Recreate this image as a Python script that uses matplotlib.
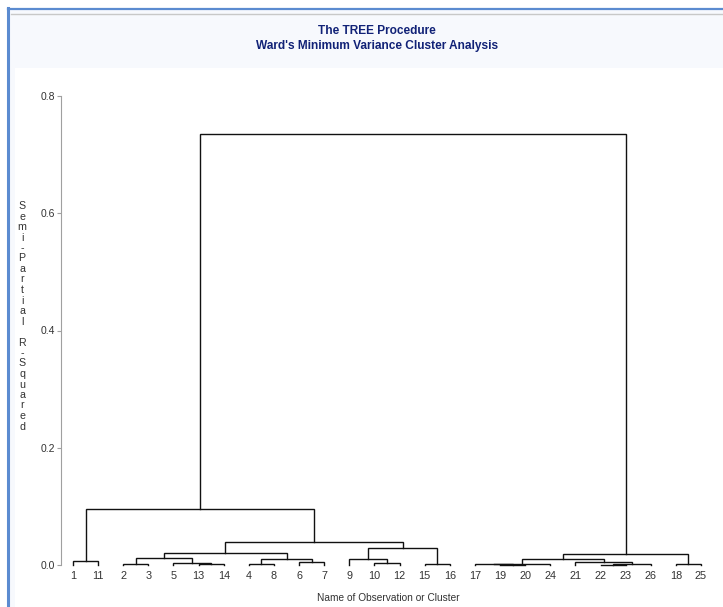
import matplotlib
matplotlib.use("Agg")
import matplotlib.pyplot as plt
from matplotlib.patches import Rectangle
from matplotlib.lines import Line2D

# ---- data ----
leaf_order = ["1", "11", "2", "3", "5", "13", "14", "4", "8", "6", "7", "9", "10", "12",
              "15", "16", "17", "19", "20", "24", "21", "22", "23", "26", "18", "25"]

# merges (ascending height); new cluster names CL25 ... CL1
merge_a = ["19", "22", "17", "13", "4", "18", "15", "2", "CL24", "CL23", "5", "10",
           "21", "6", "1", "CL16", "CL21", "9", "CL18", "CL10", "CL7", "CL8", "CL5", "CL11", "CL2"]
merge_b = ["20", "23", "CL25", "14", "8", "25", "16", "3", "26", "24", "CL22", "12",
           "CL17", "7", "11", "CL13", "CL12", "CL14", "CL15", "CL20", "CL9", "CL19", "CL4", "CL3", "CL6"]
merge_h = [0.0003, 0.0005, 0.0012, 0.0012, 0.0012, 0.0014, 0.0015, 0.0017, 0.0020, 0.0022,
           0.0040, 0.0040, 0.0050, 0.0056, 0.0068, 0.0097, 0.0100, 0.0100, 0.0120, 0.0180,
           0.0205, 0.0295, 0.0390, 0.0955, 0.7350]

y_ticks = [0.0, 0.2, 0.4, 0.6, 0.8]
y_label = "Semi-Partial R-Squared"
x_label = "Name of Observation or Cluster"
title1 = "The TREE Procedure"
title2 = "Ward's Minimum Variance Cluster Analysis"

# ---- figure ----
W, H = 723, 607
fig = plt.figure(figsize=(W / 100, H / 100), dpi=100)
fig.patch.set_facecolor("white")

def fx(px):
    return px / W

def fy(py):
    return 1 - py / H

# background panels / border
fig.patches.append(Rectangle((fx(8), 0), 1, fy(8), transform=fig.transFigure,
                             facecolor="#f7f9fd", edgecolor="none", zorder=-20))
fig.patches.append(Rectangle((fx(15), 0), 1, fy(68), transform=fig.transFigure,
                             facecolor="white", edgecolor="none", zorder=-19))
fig.lines.append(Line2D([fx(8), fx(8)], [0, fy(8)], transform=fig.transFigure,
                        color="#5b8bd0", lw=2.2, zorder=-18))
fig.lines.append(Line2D([fx(8), 1], [fy(8.5), fy(8.5)], transform=fig.transFigure,
                        color="#5b8bd0", lw=1.6, zorder=-18))
fig.lines.append(Line2D([fx(11), 1], [fy(13.5), fy(13.5)], transform=fig.transFigure,
                        color="#c8c8c8", lw=1.0, zorder=-18))

font = ["Liberation Sans", "DejaVu Sans"]
fig.text(fx(377), fy(31), title1, ha="center", va="center", fontsize=8.6, fontweight="bold",
         color="#112277", family=font)
fig.text(fx(377), fy(46), title2, ha="center", va="center", fontsize=8.6, fontweight="bold",
         color="#112277", family=font)

# axes
n = len(leaf_order)
x0_px, step_px = 73.0, 25.12
left_px, right_px = 61.0, 723.0
xmin = 1 + (left_px - x0_px) / step_px
xmax = 1 + (right_px - x0_px) / step_px
ax = fig.add_axes([fx(left_px), fy(565), fx(right_px - left_px), (565 - 96) / H])
ax.set_zorder(5)
ax.set_xlim(xmin, xmax)
ax.set_ylim(0, 0.8)
ax.patch.set_alpha(0)

pos = {lab: (i + 1, 0.0) for i, lab in enumerate(leaf_order)}
for k, (a, b, h) in enumerate(zip(merge_a, merge_b, merge_h)):
    name = "CL%d" % (len(merge_h) - k)
    xa, ha = pos[a]
    xb, hb = pos[b]
    ax.plot([xa, xa, xb, xb], [ha, h, h, hb], color="#111111", lw=1.0,
            solid_joinstyle="miter", clip_on=False)
    pos[name] = ((xa + xb) / 2, h)

for s in ["top", "right", "bottom"]:
    ax.spines[s].set_visible(False)
ax.spines["left"].set_color("#a0a0a0")
ax.spines["left"].set_linewidth(0.8)
ax.set_yticks(y_ticks)
ax.set_yticklabels(["%.1f" % v for v in y_ticks], family=font, fontsize=7.5, color="#333333")
ax.tick_params(axis="y", length=3, width=0.8, color="#a0a0a0", pad=1.5)
ax.set_xticks(range(1, n + 1))
ax.set_xticklabels(leaf_order, family=font, fontsize=7.8, color="#333333")
ax.tick_params(axis="x", length=0, pad=4.5)
ax.set_xlabel(x_label, family=font, fontsize=7.3, color="#333333")
ax.xaxis.label.set_va("center")
ax.xaxis.set_label_coords((388 - left_px) / (right_px - left_px), -(598 - 565) / (565 - 96))

# vertical stacked y label
y_start, y_step = 206.0, 10.5
for i, ch in enumerate(y_label):
    if ch == " ":
        continue
    fig.text(fx(22), fy(y_start + i * y_step), ch, ha="center", va="center",
             fontsize=7.7, color="#333333", family=font)

fig.savefig("out.png", dpi=100)
